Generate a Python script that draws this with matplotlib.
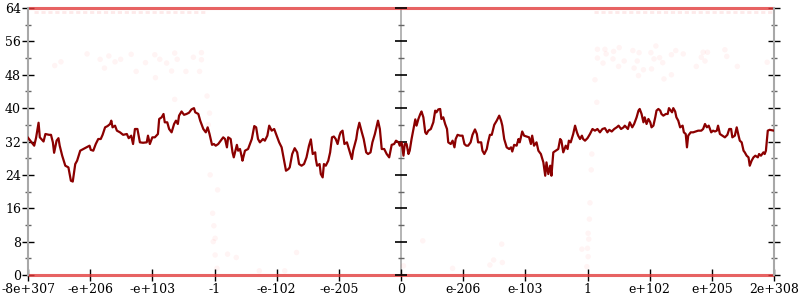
import matplotlib.pyplot as plt
from matplotlib.ticker import MultipleLocator

# x positions are in tick units: -6 .. 6 maps to -8e+307 .. 2e+308
tick_pos = [-6, -5, -4, -3, -2, -1, 0, 1, 2, 3, 4, 5, 6]
tick_labels = ['-8e+307', '-e+206', '-e+103', '-1', '-e-102', '-e-205', '0',
               'e-206', 'e-103', '1', 'e+102', 'e+205', '2e+308']
y_major = [0, 8, 16, 24, 32, 40, 48, 56, 64]
y_minor = [4, 12, 20, 28, 36, 44, 52, 60]

line_x = [
    -6.00, -5.90, -5.87, -5.83, -5.81, -5.75, -5.72, -5.66, -5.63, -5.60,
    -5.58, -5.54, -5.51, -5.49, -5.45, -5.40, -5.35, -5.31, -5.28, -5.24,
    -5.21, -5.16, -5.11, -5.06, -5.01, -4.99, -4.95, -4.91, -4.87, -4.83,
    -4.80, -4.76, -4.72, -4.68, -4.66, -4.64, -4.60, -4.57, -4.52, -4.47,
    -4.41, -4.38, -4.34, -4.31, -4.28, -4.24, -4.20, -4.15, -4.09, -4.07,
    -4.04, -4.00, -3.96, -3.91, -3.89, -3.85, -3.82, -3.80, -3.76, -3.73,
    -3.69, -3.65, -3.62, -3.59, -3.57, -3.53, -3.49, -3.45, -3.41, -3.37,
    -3.33, -3.31, -3.26, -3.23, -3.18, -3.14, -3.11, -3.08, -3.04,
    -3.01, -2.98, -2.94, -2.90, -2.86, -2.83, -2.80, -2.78, -2.74, -2.71,
    -2.69, -2.64, -2.62, -2.59, -2.56, -2.55, -2.51, -2.46, -2.40, -2.36,
    -2.33, -2.30, -2.27, -2.22, -2.19, -2.15, -2.12, -2.08, -2.04, -2.00,
    -1.96, -1.92, -1.89, -1.85, -1.81, -1.79, -1.75, -1.71, -1.67, -1.64,
    -1.60, -1.56, -1.52, -1.48, -1.45, -1.42, -1.38, -1.37, -1.35, -1.31,
    -1.29, -1.26, -1.24, -1.21, -1.17, -1.14, -1.11, -1.08, -1.05, -1.02,
    -0.99, -0.97, -0.94, -0.91, -0.87, -0.83, -0.79, -0.77, -0.72, -0.70,
    -0.67, -0.63, -0.60, -0.56, -0.53, -0.49, -0.46, -0.42, -0.37, -0.34,
    -0.31, -0.27, -0.23, -0.19, -0.15, -0.11, -0.08, -0.04, -0.02,
    0.01, 0.04, 0.06, 0.09, 0.12, 0.14, 0.17, 0.20, 0.23, 0.25,
    0.28, 0.31, 0.33, 0.36, 0.39, 0.41, 0.44, 0.48, 0.52, 0.55,
    0.57, 0.60, 0.63, 0.65, 0.68, 0.71, 0.74, 0.76, 0.80, 0.83,
    0.86, 0.88, 0.91, 0.95, 0.99, 1.02, 1.05, 1.08, 1.12, 1.15,
    1.19, 1.22, 1.24, 1.29, 1.31, 1.34, 1.38, 1.40, 1.43, 1.46,
    1.50, 1.54, 1.58, 1.61, 1.63, 1.66, 1.70, 1.74, 1.77, 1.79,
    1.82, 1.86, 1.89, 1.91, 1.95, 1.98, 2.02, 2.06, 2.09, 2.11,
    2.14, 2.18, 2.21, 2.25, 2.29, 2.32, 2.34, 2.37, 2.40, 2.42,
    2.45, 2.49, 2.53, 2.56, 2.58, 2.61, 2.65, 2.68, 2.70, 2.73,
    2.77, 2.80, 2.83, 2.85, 2.88, 2.91, 2.93, 2.96,
    3.00, 3.04, 3.08, 3.12, 3.16, 3.20, 3.24, 3.28, 3.32, 3.35,
    3.39, 3.43, 3.47, 3.50, 3.54, 3.58, 3.60, 3.65, 3.68, 3.72,
    3.75, 3.79, 3.82, 3.84, 3.87, 3.90, 3.92, 3.95, 3.98, 4.01,
    4.03, 4.06, 4.09, 4.11, 4.14, 4.17, 4.19, 4.22, 4.26, 4.29,
    4.31, 4.34, 4.36, 4.38, 4.41, 4.43, 4.46, 4.49, 4.53, 4.55,
    4.58, 4.60, 4.62, 4.66, 4.70, 4.74, 4.78, 4.83, 4.86, 4.89,
    4.92, 4.95, 4.99, 5.02, 5.05, 5.08, 5.10, 5.13, 5.17, 5.21,
    5.25, 5.28, 5.31, 5.33, 5.37, 5.40, 5.43, 5.45, 5.48, 5.51,
    5.53, 5.56, 5.59, 5.61, 5.64, 5.67, 5.70, 5.74, 5.76, 5.79,
    5.83, 5.85, 5.87, 5.90, 5.93, 6.00,
]
line_y = [
    32.9, 31.0, 32.9, 36.5, 33.0, 32.0, 33.8, 33.6, 33.6, 31.8,
    29.3, 32.2, 32.8, 31.0, 28.6, 26.2, 25.8, 22.6, 22.4, 26.6,
    27.4, 29.8, 30.2, 30.6, 31.0, 30.0, 29.8, 31.4, 32.6, 32.6,
    33.6, 35.4, 35.7, 36.2, 37.0, 35.4, 35.8, 34.6, 34.2, 33.6,
    33.8, 32.8, 33.4, 31.4, 35.0, 35.0, 31.8, 31.7, 31.8, 33.4,
    31.4, 33.0, 33.0, 33.8, 37.4, 37.8, 38.6, 36.6, 36.6, 35.0,
    34.2, 36.2, 37.0, 36.2, 38.2, 39.2, 38.4, 38.6, 38.9, 39.7,
    40.0, 39.0, 38.6, 37.0, 35.0, 34.2, 35.4, 33.8, 31.2,
    31.4, 31.0, 31.4, 32.2, 33.0, 32.6, 30.6, 33.0, 32.6, 29.4,
    28.2, 31.2, 29.8, 30.2, 28.2, 27.4, 29.8, 30.2, 32.6, 35.7,
    35.4, 32.6, 31.8, 32.6, 32.2, 33.4, 35.8, 34.6, 35.0, 33.4,
    31.8, 30.6, 28.2, 25.0, 25.4, 25.8, 29.0, 30.4, 29.4, 26.6,
    26.2, 26.6, 28.2, 31.0, 32.5, 29.0, 29.4, 27.8, 26.2, 26.6,
    24.2, 23.4, 26.6, 26.2, 27.4, 29.4, 33.0, 33.2, 32.6, 31.4,
    33.4, 34.2, 34.6, 31.4, 31.8, 29.8, 27.8, 29.8, 32.6, 34.6,
    36.5, 34.2, 32.6, 29.4, 29.0, 29.4, 31.8, 33.8, 37.0, 35.0,
    30.2, 30.2, 29.0, 28.2, 31.2, 31.4, 32.2, 31.8, 31.0,
    31.8, 28.6, 31.4, 31.4, 29.0, 29.8, 32.6, 35.0, 37.3, 35.8,
    37.4, 38.6, 39.2, 37.8, 34.2, 33.8, 34.6, 35.0, 36.6, 39.4,
    39.0, 39.7, 39.8, 37.4, 37.8, 36.2, 35.0, 31.8, 31.4, 32.2,
    30.6, 32.6, 33.6, 33.4, 33.4, 31.4, 31.0, 31.0, 31.8, 33.6,
    34.9, 33.8, 31.8, 31.8, 29.8, 29.0, 30.2, 31.8, 33.6, 33.6,
    36.0, 37.0, 38.2, 37.0, 35.8, 32.6, 30.6, 30.2, 30.6, 29.6,
    31.2, 31.0, 32.6, 31.8, 34.4, 33.4, 33.2, 33.0, 31.4, 33.4,
    31.0, 31.8, 29.8, 29.0, 27.0, 23.8, 27.0, 24.2, 26.2, 23.8,
    29.4, 29.8, 30.2, 32.6, 32.2, 29.4, 31.0, 30.2, 32.2, 31.8,
    33.8, 35.8, 34.2, 33.4, 32.6, 33.4, 32.6, 32.2,
    32.8, 33.8, 35.0, 34.6, 35.0, 34.2, 35.0, 35.2, 34.2, 34.8,
    34.4, 35.0, 35.4, 35.8, 35.0, 35.4, 35.8, 35.0, 36.6, 35.4,
    36.2, 37.8, 39.4, 39.8, 38.6, 36.6, 37.8, 36.2, 37.4, 36.6,
    35.4, 35.8, 37.8, 39.4, 39.8, 39.4, 38.6, 38.2, 38.6, 38.6,
    40.0, 39.4, 39.0, 40.0, 39.2, 37.8, 37.0, 35.4, 35.8, 34.2,
    33.8, 30.6, 33.4, 34.2, 34.2, 34.4, 34.6, 34.6, 35.0, 36.2,
    35.4, 35.8, 34.2, 34.6, 34.4, 34.6, 35.8, 33.8, 33.4, 33.0,
    33.6, 35.0, 35.0, 33.0, 33.4, 35.4, 33.4, 32.2, 31.8, 29.8,
    29.4, 28.6, 28.2, 26.2, 27.4, 28.2, 28.6, 28.2, 29.0, 28.6,
    29.4, 29.0, 29.8, 34.6, 34.8, 34.6,
]

# faint scattered samples
dots_x = [
    -5.57, -5.47, -5.05, -4.84, -4.77, -4.70, -4.60, -4.51, -4.34, -4.26,
    -4.11, -3.96, -3.95, -3.88, -3.77, -3.69, -3.64, -3.60, -3.46, -3.34,
    -3.24, -3.21, -3.21, -3.64, -3.12, -3.08, -3.10,
    -3.07, -2.95, -3.03, -3.01, -2.99, -3.02, -2.99, -2.96, -2.79, -2.65,
    -2.28, -1.68, -1.87, 0.04, 0.35, 0.83, 1.43, 1.49, 1.62, 1.63,
    3.07, 3.06, 3.04, 3.03, 3.01, 3.02, 3.00, 2.91, 3.01, 2.99,
    3.16, 3.28, 3.30, 3.42, 3.51, 3.16, 3.25, 3.41, 3.50, 3.59,
    3.73, 3.75, 3.80, 3.82, 3.83, 3.90, 4.02, 4.03, 4.07, 4.10,
    4.16, 4.21, 4.23, 4.35, 4.35, 4.42, 4.54, 4.75, 4.83, 4.86,
    4.89, 4.93, 5.21, 5.24, 5.41, 5.89, 3.12, 3.15,
]
dots_y = [
    50.2, 51.1, 53.0, 51.7, 49.6, 52.5, 51.1, 51.7, 52.9, 48.8,
    50.9, 52.8, 47.3, 51.7, 50.8, 48.9, 53.2, 51.7, 48.8, 52.2,
    48.8, 53.3, 51.6, 42.1, 42.9, 38.8, 36.0,
    24.0, 20.4, 14.8, 11.8, 8.8, 8.0, 4.8, 1.6, 5.0, 4.2,
    1.0, 5.4, 1.0, 2.2, 8.2, 1.6, 2.4, 3.6, 7.4, 3.0,
    29.0, 25.2, 17.3, 13.4, 10.0, 8.6, 6.4, 6.2, 4.4, 2.0,
    54.1, 54.1, 53.0, 53.6, 54.5, 52.0, 50.8, 51.8, 50.0, 51.3,
    53.8, 49.6, 51.3, 47.8, 53.3, 49.2, 53.3, 49.4, 51.8, 54.9,
    52.1, 50.9, 47.0, 52.8, 48.0, 53.8, 53.0, 50.0, 52.2, 53.4,
    51.3, 53.4, 54.0, 52.4, 50.0, 51.0, 46.8, 41.4,
]

# dense rows of samples, drawn as bands
band_levels = [0, 64]
row63_start = [-5.9, 3.1]
row63_end = [-3.15, 6.0]

plt.rcParams['font.family'] = 'DejaVu Serif'
plt.rcParams['font.size'] = 9

fig = plt.figure(figsize=(8, 3), dpi=100)
ax = fig.add_axes([0.035, 0.0833, 0.9325, 0.89])

ax.hlines(band_levels, -6, 6, colors='#e23c3c', lw=2.2, alpha=0.8, zorder=2, clip_on=False)
ax.hlines([63] * len(row63_start), row63_start, row63_end, colors='#f05050', lw=2,
          alpha=0.12, linestyles=(0, (1.5, 1)), zorder=2)
ax.scatter(dots_x, dots_y, s=16, color='red', alpha=0.045, edgecolors='none', zorder=2)

ax.plot(line_x, line_y, color='#8b0000', lw=1.6, zorder=4)

# middle axis at x = 0
ax.axvline(0, color='#a8a8a8', lw=1.2, zorder=1)
ax.plot([0] * len(y_major), y_major, ls='none', marker='_', ms=8, mew=1.2,
        color='black', zorder=3, clip_on=False)
ax.plot([0] * len(y_minor), y_minor, ls='none', marker='_', ms=5, mew=1,
        color='#666666', zorder=3)

ax.set_xlim(-6, 6)
ax.set_ylim(0, 64)
ax.set_xticks(tick_pos)
ax.set_xticklabels(tick_labels)
ax.yaxis.set_major_locator(MultipleLocator(8))
ax.yaxis.set_minor_locator(MultipleLocator(4))

for side in ['top', 'bottom']:
    ax.spines[side].set_visible(False)
for side in ['left', 'right']:
    ax.spines[side].set_color('#a8a8a8')
    ax.spines[side].set_linewidth(1.5)

ax.tick_params(axis='y', which='major', direction='inout', length=8, width=1,
               color='black', right=True, pad=1)
ax.tick_params(axis='y', which='minor', direction='inout', length=5, width=1,
               color='#666666', right=True)
ax.tick_params(axis='x', which='major', direction='inout', length=8, width=1,
               color='black', pad=2)

plt.savefig('out.png', dpi=100)
